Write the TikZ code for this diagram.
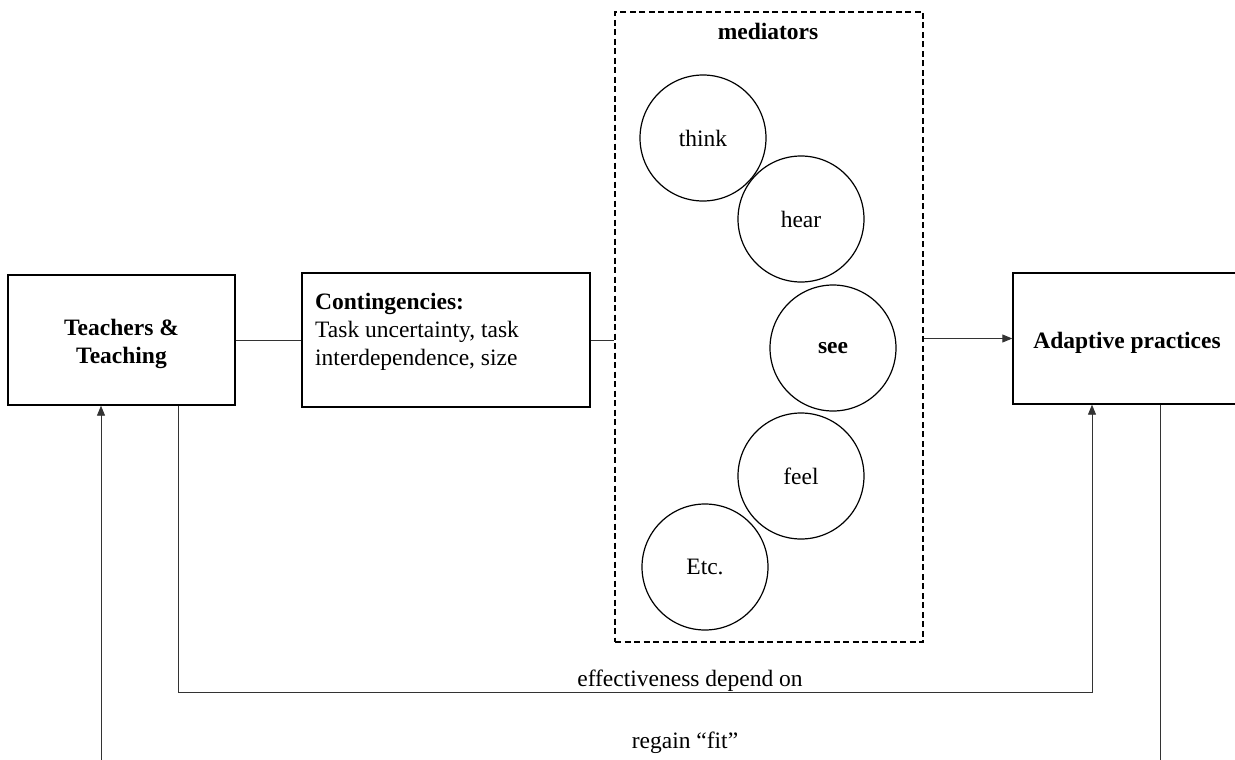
\documentclass[tikz,border=0pt]{standalone}
\usepackage{fontspec}
\setmainfont{Liberation Serif}
\usetikzlibrary{arrows.meta}
\begin{document}
\begin{tikzpicture}[x=1pt,y=-1pt,
  txt/.style={font=\fontsize{23.5}{28}\selectfont},
  boxnode/.style={draw=black,line width=1.4pt,inner sep=0pt},
  boxlbl/.style={txt,align=center,yshift=-4pt},
  circ/.style={circle,draw=black,line width=1.2pt,minimum size=126pt,inner sep=0pt,txt},
  conn/.style={draw=black!80,line width=0.9pt},
  arr/.style={conn,-{Triangle[length=10pt,width=8pt]}}]
\useasboundingbox (0,0) rectangle (1235,760);
\fill[white] (0,0) rectangle (1235,760);
% boxes
\node[boxnode,minimum width=227pt,minimum height=130pt,label={[boxlbl]center:\textbf{Teachers \&}\\\textbf{Teaching}}] (teach) at (121.5,340) {};
\node[boxnode,minimum width=288pt,minimum height=134pt] (cont) at (446,340) {};
\node[txt,anchor=north west,align=left,inner sep=0pt] (conttext) at (315,293) {\textbf{Contingencies:}\\Task uncertainty, task\\interdependence, size};
\node[draw=black,dash pattern=on 6pt off 3.5pt,line width=1.2pt,minimum width=308pt,minimum height=630pt,inner sep=0pt] (med) at (769,327) {};
\node[txt,font=\fontsize{23.5}{28}\selectfont\bfseries] (medlbl) at (768,31) {mediators};
\node[boxnode,minimum width=228pt,minimum height=131pt,label={[boxlbl]center:\textbf{Adaptive practices}}] (adapt) at (1127,338.5) {};
% circles
\node[circ] (think) at (703,138) {think};
\node[circ] (hear) at (801,219) {hear};
\node[circ] (see) at (833,348) {\textbf{see}};
\node[circ] (feel) at (801,476) {feel};
\node[circ] (etc) at (705,567) {Etc.};
% connectors
\draw[conn] (teach.east) -- (cont.west);
\draw[conn] (cont.east) -- (cont.east -| med.west);
\draw[arr] (med.east |- adapt.west) -- (adapt.west);
\coordinate (e1) at (178,692);
\coordinate (e2) at (1092,692);
\draw[arr] (teach.south -| e1) -- (e1) -- (e2) -- (e2 |- adapt.south);
\node[txt] (efflbl) at (690,681) {effectiveness depend on};
\coordinate (r1) at (1160,775);
\coordinate (r2) at (101,775);
\draw[arr] (adapt.south -| r1) -- (r1) -- (r2) -- (r2 |- teach.south);
\node[txt] (fitlbl) at (685,743) {regain “fit”};
\end{tikzpicture}
\end{document}
